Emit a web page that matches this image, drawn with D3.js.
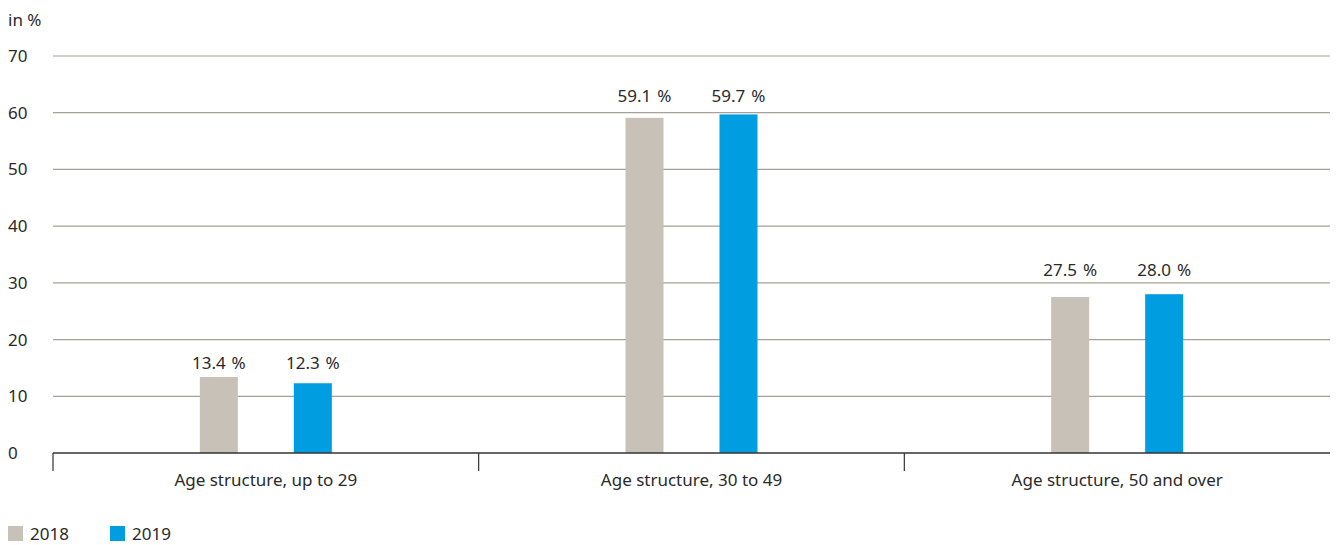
<!DOCTYPE html>
<html>
<head>
<meta charset="utf-8">
<script src="https://cdn.jsdelivr.net/npm/d3@7"></script>
<style>
  html, body { margin: 0; padding: 0; background: #fff; }
  svg { display: block; font-family: "Noto Sans", "Open Sans", sans-serif; }
</style>
</head>
<body>
<svg id="chart" width="1338" height="545"></svg>
<script>
const categories = ["Age structure, up to 29", "Age structure, 30 to 49", "Age structure, 50 and over"];
const seriesNames = ["2018", "2019"];
const values2018 = [13.4, 59.1, 27.5];
const values2019 = [12.3, 59.7, 28.0];
const yTicks = [0, 10, 20, 30, 40, 50, 60, 70];
const colors = ["#c8c1b8", "#009ee0"];

(function () {
const svg = d3.select("#chart");
const mLeft = 53, mRight = 1330, mTop = 56, mBottom = 453;
const fs = 17;
const textColor = "#2a2a2a";
const labelGap = [8, 12, 18];

const x = d3.scaleBand().domain(categories).range([mLeft, mRight]).padding(0);
const y = d3.scaleLinear().domain([0, 70]).range([mBottom, mTop]);
const inner = d3.scaleBand().domain(seriesNames).range([0, 132]).paddingInner(56/94).paddingOuter(0);

// gridlines
svg.append("g").selectAll("line").data(yTicks.filter(d => d > 0)).join("line")
  .attr("x1", mLeft).attr("x2", mRight)
  .attr("y1", d => y(d)).attr("y2", d => y(d))
  .attr("stroke", "#a8a096").attr("stroke-width", 1.2);

// y tick labels
svg.append("g").selectAll("text").data(yTicks).join("text")
  .attr("x", 8).attr("y", d => y(d) + 6)
  .attr("font-size", fs).attr("fill", textColor)
  .text(d => d);

svg.append("text").attr("x", 8).attr("y", 26).attr("font-size", fs).attr("fill", textColor).text("in %");

const series = [values2018, values2019];
const g = svg.append("g");
categories.forEach((c, ci) => {
  const cx = x(c) + x.bandwidth() / 2 - 66;
  const groupMax = d3.max(series, s => s[ci]);
  seriesNames.forEach((s, si) => {
    const v = series[si][ci];
    const bx = cx + inner(s);
    g.append("rect")
      .attr("x", bx).attr("y", y(v))
      .attr("width", inner.bandwidth()).attr("height", y(0) - y(v))
      .attr("fill", colors[si]);
    g.append("text")
      .attr("x", bx + inner.bandwidth() / 2).attr("y", y(groupMax) - labelGap[ci])
      .attr("text-anchor", "middle").attr("font-size", fs).attr("fill", textColor)
      .attr("word-spacing", 1.5)
      .text(v.toFixed(1) + " %");
  });
});

// x axis
const xAxis = svg.append("g");
xAxis.append("line").attr("x1", mLeft).attr("x2", mRight).attr("y1", mBottom).attr("y2", mBottom)
  .attr("stroke", "#333").attr("stroke-width", 1.5);
xAxis.selectAll("line.tick").data(categories).join("line").attr("class", "tick")
  .attr("x1", d => x(d)).attr("x2", d => x(d))
  .attr("y1", mBottom).attr("y2", mBottom + 18)
  .attr("stroke", "#333").attr("stroke-width", 1.2);
xAxis.selectAll("text").data(categories).join("text")
  .attr("x", d => x(d) + x.bandwidth() / 2).attr("y", mBottom + 33)
  .attr("text-anchor", "middle").attr("font-size", fs).attr("fill", textColor)
  .text(d => d);

// legend
const legendX = [8, 110];
const lg = svg.append("g");
seriesNames.forEach((s, i) => {
  lg.append("rect").attr("x", legendX[i]).attr("y", 526).attr("width", 15).attr("height", 15).attr("fill", colors[i]);
  lg.append("text").attr("x", legendX[i] + 22).attr("y", 540).attr("font-size", fs).attr("fill", textColor).text(s);
});
})();
</script>
</body>
</html>
